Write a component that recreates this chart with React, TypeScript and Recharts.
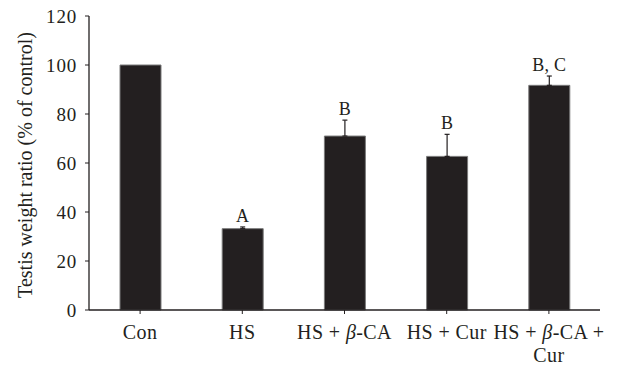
import React from 'react';
import { BarChart, Bar, XAxis, YAxis, ErrorBar, LabelList, Label } from 'recharts';

const categories = ['Con', 'HS', 'HS + β-CA', 'HS + Cur', 'HS + β-CA + Cur'];
const tickLines = [['Con'], ['HS'], ['HS + β-CA'], ['HS + Cur'], ['HS + β-CA +', 'Cur']];
const values = [100, 33.2, 71, 62.7, 91.7];
const errors = [0, 0.7, 6.5, 9, 3.8];
const letters = ['', 'A', 'B', 'B', 'B, C'];
const yTicks = [0, 20, 40, 60, 80, 100, 120];

const data = categories.map((c, i) => ({
  name: c,
  value: values[i],
  err: errors[i] > 0 ? [0, errors[i]] : null,
  letter: letters[i],
}));

const INK = '#231f20';
const FONT = '"Liberation Serif", "Times New Roman", serif';

const renderLine = (line: string) => {
  const parts = line.split('β');
  const out: React.ReactNode[] = [];
  parts.forEach((p, i) => {
    if (i > 0) out.push(<tspan key={'b' + i} fontStyle="italic">β</tspan>);
    out.push(<tspan key={'t' + i}>{p}</tspan>);
  });
  return out;
};

const XTick = (props: any) => {
  const { x, y, payload } = props;
  const idx = categories.indexOf(payload.value);
  const lines = tickLines[idx] || [payload.value];
  return (
    <g>
      {lines.map((ln, i) => (
        <text key={i} x={x} y={y + 23 + i * 23} textAnchor="middle" fill={INK} fontSize={20} letterSpacing={0.4} fontFamily={FONT}>
          {renderLine(ln)}
        </text>
      ))}
    </g>
  );
};

const LetterLabel = (props: any) => {
  const { x, y, width, height, index } = props;
  const txt = letters[index];
  if (!txt) return null;
  const errPx = (errors[index] * height) / values[index];
  return (
    <text x={x + width / 2} y={y - errPx - 5} textAnchor="middle" fill={INK} fontSize={18} letterSpacing={0.3} fontFamily={FONT}>
      {txt}
    </text>
  );
};

export default function App() {
  return (
    <div style={{ position: 'absolute', left: 0, top: 0, background: '#fff' }}>
      <BarChart width={637} height={368} data={data} margin={{ top: 16, right: 37, bottom: 0, left: 0 }}>
        <XAxis
          dataKey="name"
          height={58}
          interval={0}
          tick={<XTick />}
          tickSize={4}
          stroke={INK}
          axisLine={{ stroke: INK, strokeWidth: 1.3 }}
          tickLine={{ stroke: INK }}
        />
        <YAxis
          width={89}
          domain={[0, 120]}
          ticks={yTicks}
          tickSize={4}
          tickMargin={8}
          axisLine={{ stroke: INK, strokeWidth: 1.3 }}
          tickLine={{ stroke: INK }}
          tick={{ fill: INK, fontSize: 19, fontFamily: FONT, letterSpacing: 0.8 }}
        >
          <Label
            content={(p: any) => {
              const vb = p.viewBox;
              const cx = vb.x + 25;
              const cy = vb.y + vb.height / 2 + 2;
              return (
                <text
                  x={cx}
                  y={cy}
                  transform={`rotate(-90 ${cx} ${cy})`}
                  textAnchor="middle"
                  dominantBaseline="central"
                  fill={INK}
                  fontSize={20}
                  fontFamily={FONT}
                >
                  Testis weight ratio (% of control)
                </text>
              );
            }}
          />
        </YAxis>
        <Bar dataKey="value" fill={INK} stroke="#7a7a7a" strokeWidth={1} barSize={41} isAnimationActive={false}>
          <ErrorBar dataKey="err" direction="y" width={2.5} stroke={INK} strokeWidth={1.2} />
          <LabelList dataKey="letter" content={<LetterLabel />} />
        </Bar>
      </BarChart>
    </div>
  );
}
